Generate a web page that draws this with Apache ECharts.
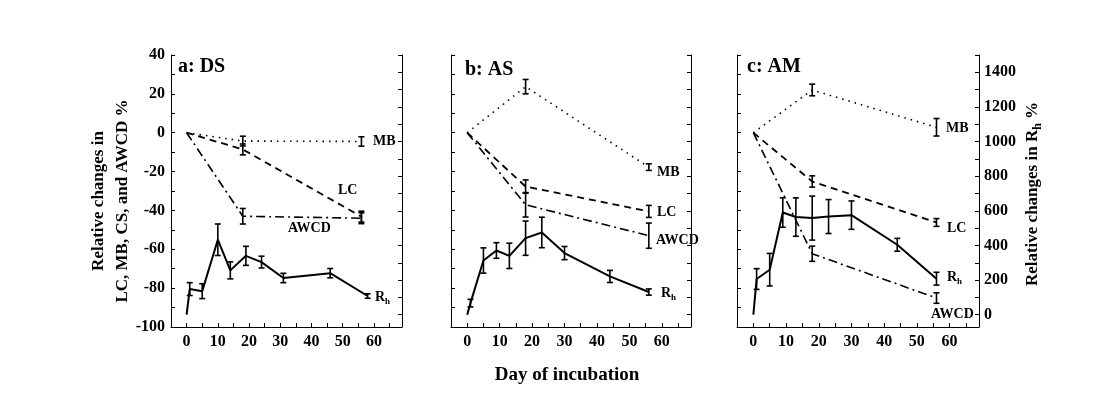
<!DOCTYPE html>
<html>
<head>
<meta charset="utf-8">
<script src="https://cdn.jsdelivr.net/npm/echarts@6/dist/echarts.min.js"></script>
<style>
  html, body { margin: 0; padding: 0; background: #fff; }
  #chart { width: 1109px; height: 394px; }
</style>
</head>
<body>
<div id="chart"></div>
<script>
// days where LC, MB and AWCD were sampled
const sampleDays = [0, 18, 56];

// a: DS
const mbA = [0, -4.3, -4.5];
const mbErrA = [0, 2.5, 2.4];
const lcA = [0, -8.6, -43.2];
const lcErrA = [0, 2.8, 2.8];
const awcdA = [0, -43, -44];
const awcdErrA = [0, 4, 2.8];
const rhDaysA = [0, 1, 5, 10, 14, 19, 24, 31, 46, 58];
const rhA = [0, 148, 136, 433, 256, 340, 304, 212, 240, 108];
const rhErrA = [0, 37, 43, 91, 49, 55, 34, 27, 27, 13];

// b: AS
const mbB = [0, 23.7, -17.7];
const mbErrB = [0, 3.7, 1.7];
const lcB = [0, -27.7, -40.5];
const lcErrB = [0, 3.4, 3.1];
const awcdB = [0, -37.1, -53];
const awcdErrB = [0, 6.3, 6.5];
const rhDaysB = [0, 1, 5, 9, 13, 18, 23, 30, 44, 56];
const rhB = [0, 67, 313, 371, 340, 442, 475, 356, 221, 131];
const rhErrB = [0, 22, 73, 45, 73, 99, 88, 38, 35, 18];

// c: AM
const mbC = [0, 22, 2.8];
const mbErrC = [0, 3, 4.5];
const lcC = [0, -25.1, -46.2];
const lcErrC = [0, 2.9, 2];
const awcdC = [0, -62.3, -85.1];
const awcdErrC = [0, 3.9, 2.7];
const rhDaysC = [0, 1, 5, 9, 13, 18, 23, 30, 44, 56];
const rhC = [0, 206, 260, 590, 564, 558, 567, 575, 404, 208];
const rhErrC = [0, 60, 94, 85, 111, 127, 98, 82, 37, 37];

// tick labels
const dayLabels = [0, 10, 20, 30, 40, 50, 60];
const dayTicks = [0, 5, 10, 15, 20, 25, 30, 35, 40, 45, 50, 55, 60, 65];
const leftLabels = [-100, -80, -60, -40, -20, 0, 20, 40];
const leftTicks = [-100, -90, -80, -70, -60, -50, -40, -30, -20, -10, 0, 10, 20, 30, 40];
const rightLabels = [0, 200, 400, 600, 800, 1000, 1200, 1400];
const rightTicks = [0, 100, 200, 300, 400, 500, 600, 700, 800, 900, 1000, 1100, 1200, 1300, 1400, 1500];

const FONT = 'Liberation Serif';
const panels = [
  { left: 171, width: 231, mb: mbA, mbErr: mbErrA, lc: lcA, lcErr: lcErrA, awcd: awcdA, awcdErr: awcdErrA,
    rhDays: rhDaysA, rh: rhA, rhErr: rhErrA },
  { left: 451, width: 240, mb: mbB, mbErr: mbErrB, lc: lcB, lcErr: lcErrB, awcd: awcdB, awcdErr: awcdErrB,
    rhDays: rhDaysB, rh: rhB, rhErr: rhErrB },
  { left: 737, width: 242, mb: mbC, mbErr: mbErrC, lc: lcC, lcErr: lcErrC, awcd: awcdC, awcdErr: awcdErrC,
    rhDays: rhDaysC, rh: rhC, rhErr: rhErrC },
];

const axisLine = { show: true, onZero: false, lineStyle: { color: '#000', width: 1 } };
const labelFont = { fontFamily: FONT, fontWeight: 'bold', fontSize: 16, color: '#000' };
const plain = v => String(v);

function zip(xs, ys) {
  return xs.map((x, i) => [x, ys[i]]);
}
function errData(xs, ys, es) {
  return xs.map((x, i) => [x, ys[i] - es[i], ys[i] + es[i]]).filter((d, i) => es[i] > 0);
}
function renderErr(params, api) {
  const x = api.value(0);
  const lo = api.coord([x, api.value(1)]);
  const hi = api.coord([x, api.value(2)]);
  const w = 3;
  const st = { stroke: '#000', lineWidth: 1.6 };
  return {
    type: 'group',
    children: [
      { type: 'line', shape: { x1: lo[0], y1: lo[1], x2: hi[0], y2: hi[1] }, style: st },
      { type: 'line', shape: { x1: lo[0] - w, y1: lo[1], x2: lo[0] + w, y2: lo[1] }, style: st },
      { type: 'line', shape: { x1: hi[0] - w, y1: hi[1], x2: hi[0] + w, y2: hi[1] }, style: st },
    ],
  };
}

const grid = [];
const xAxis = [];
const yAxis = [];
const series = [];

panels.forEach((p, i) => {
  grid.push({ left: p.left, width: p.width, top: 55, height: 272 });
  xAxis.push({
    type: 'value', gridIndex: i, min: -5, max: 69, interval: 10,
    axisLine,
    axisTick: { show: true, inside: true, length: 4, customValues: dayTicks, lineStyle: { color: '#000' } },
    axisLabel: Object.assign({ margin: 7, customValues: dayLabels, formatter: plain }, labelFont),
    splitLine: { show: false },
  });
  yAxis.push({
    type: 'value', gridIndex: i, position: 'left', min: -100, max: 40, interval: 20,
    axisLine,
    axisTick: { show: true, inside: true, length: 4, customValues: leftTicks, lineStyle: { color: '#000' } },
    axisLabel: Object.assign({ show: i === 0, margin: 6, customValues: leftLabels, formatter: plain }, labelFont),
    splitLine: { show: false },
  });
  yAxis.push({
    type: 'value', gridIndex: i, position: 'right', min: -71, max: 1500, interval: 100,
    axisLine,
    axisTick: { show: true, inside: true, length: 4, customValues: rightTicks, lineStyle: { color: '#000' } },
    axisLabel: Object.assign({ show: i === 2, margin: 5, customValues: rightLabels, formatter: plain }, labelFont),
    splitLine: { show: false },
  });
  const yl = i * 2;
  const yr = i * 2 + 1;
  const line = (data, yIdx, type, width) => ({
    type: 'line', xAxisIndex: i, yAxisIndex: yIdx, data, showSymbol: false, silent: true,
    lineStyle: { color: '#000', width, type },
  });
  const err = (data, yIdx) => ({
    type: 'custom', xAxisIndex: i, yAxisIndex: yIdx, data, renderItem: renderErr,
    encode: { x: 0, y: [1, 2] }, z: 5, silent: true,
  });
  series.push(line(zip(sampleDays, p.mb), yl, [1.5, 5], 1.6));
  series.push(line(zip(sampleDays, p.lc), yl, [7, 5], 1.8));
  series.push(line(zip(sampleDays, p.awcd), yl, [9, 4, 2, 4], 1.6));
  series.push(line(zip(p.rhDays, p.rh), yr, 'solid', 2));
  series.push(err(errData(sampleDays, p.mb, p.mbErr), yl));
  series.push(err(errData(sampleDays, p.lc, p.lcErr), yl));
  series.push(err(errData(sampleDays, p.awcd, p.awcdErr), yl));
  series.push(err(errData(p.rhDays, p.rh, p.rhErr), yr));
});

const txt = (x, y, text, size, extra) => ({
  type: 'text', x, y, silent: true,
  style: Object.assign({
    text, fill: '#000', fontFamily: FONT, fontWeight: 'bold', fontSize: size,
    align: 'left', verticalAlign: 'middle',
  }, extra || {}),
});
const rhRich = {
  r: { fontFamily: FONT, fontWeight: 'bold', fontSize: 14, fill: '#000' },
  s: { fontFamily: FONT, fontWeight: 'bold', fontSize: 9, fill: '#000', padding: [9, 0, 0, 0] },
};
const rhLabel = (x, y) => txt(x, y, '{r|R}{s|h}', 14, { rich: rhRich });

const graphic = [
  txt(178, 67, 'a: DS', 20),
  txt(465, 70, 'b: AS', 20),
  txt(747, 67, 'c: AM', 20),
  // curve labels
  txt(373, 141, 'MB', 14), txt(338, 190, 'LC', 14), txt(288, 228, 'AWCD', 14), rhLabel(375, 297),
  txt(657, 172, 'MB', 14), txt(657, 212, 'LC', 14), txt(656, 240, 'AWCD', 14), rhLabel(661, 293),
  txt(946, 128, 'MB', 14), txt(947, 228, 'LC', 14), txt(931, 314, 'AWCD', 14), rhLabel(947, 277),
  // axis titles
  Object.assign(txt(111, 201, 'Relative changes in\nLC, MB, CS, and AWCD %', 17,
    { align: 'center', lineHeight: 24 }), { rotation: Math.PI / 2 }),
  txt(567, 375, 'Day of incubation', 19, { align: 'center' }),
  Object.assign(txt(1033, 194, '{t|Relative changes in R}{s|h}{t| %}', 17, {
    align: 'center',
    rich: {
      t: { fontFamily: FONT, fontWeight: 'bold', fontSize: 17, fill: '#000' },
      s: { fontFamily: FONT, fontWeight: 'bold', fontSize: 12, fill: '#000', padding: [10, 0, 0, 0] },
    },
  }), { rotation: Math.PI / 2 }),
];

const chart = echarts.init(document.getElementById('chart'), null, { renderer: 'canvas' });
chart.setOption({
  backgroundColor: '#fff',
  animation: false,
  grid,
  xAxis,
  yAxis,
  series,
  graphic,
});
</script>
</body>
</html>
